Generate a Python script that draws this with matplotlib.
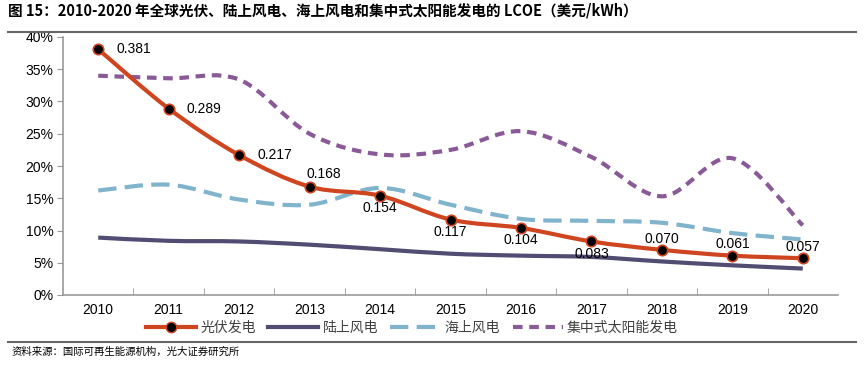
import numpy as np
import matplotlib
matplotlib.use("Agg")
from matplotlib import pyplot as plt
from matplotlib.path import Path
from matplotlib.patches import PathPatch
from matplotlib.lines import Line2D

plt.rcParams['font.family'] = ['Liberation Sans', 'Noto Sans CJK SC', 'DejaVu Sans']

years = ["2010", "2011", "2012", "2013", "2014", "2015", "2016", "2017", "2018", "2019", "2020"]
solar_pv = [0.381, 0.289, 0.217, 0.168, 0.154, 0.117, 0.104, 0.083, 0.070, 0.061, 0.057]
onshore_wind = [0.089, 0.084, 0.083, 0.078, 0.071, 0.064, 0.061, 0.059, 0.052, 0.046, 0.041]
offshore_wind = [0.162, 0.171, 0.148, 0.140, 0.166, 0.140, 0.118, 0.115, 0.112, 0.096, 0.086]
csp = [0.340, 0.336, 0.334, 0.250, 0.218, 0.225, 0.254, 0.214, 0.153, 0.212, 0.108]
series_names = ["光伏发电", "陆上风电", "海上风电", "集中式太阳能发电"]
# label placement for PV values: r = right, a = above, b = below
pv_label_pos = ["r", "r", "r", "ar", "b", "b", "b", "b", "a", "a", "a"]

CJK = ['Noto Sans CJK SC', 'DejaVu Sans']


def smooth_path(x, y):
    # excel-like smoothed line as cubic bezier segments
    x = np.asarray(x, float)
    y = np.asarray(y, float)
    p = np.column_stack([x, y])
    n = len(p)
    verts = [p[0]]
    codes = [Path.MOVETO]
    for i in range(n - 1):
        p0 = p[i - 1] if i > 0 else p[i]
        p3 = p[i + 2] if i + 2 < n else p[i + 1]
        c1 = p[i] + (p[i + 1] - p0) / 6.0
        c2 = p[i + 1] - (p3 - p[i]) / 6.0
        verts += [c1, c2, p[i + 1]]
        codes += [Path.CURVE4] * 3
    return Path(verts, codes)


def draw_curve(ax, values, color, ls, lw=3.0, z=2):
    xs = np.arange(len(values))
    patch = PathPatch(smooth_path(xs, values), facecolor="none", edgecolor=color,
                      linewidth=lw, linestyle=ls, zorder=z, capstyle="butt")
    ax.add_patch(patch)


fig = plt.figure(figsize=[8.66, 3.69], dpi=100)
fig.patch.set_facecolor('white')
ax = fig.add_axes([63 / 866, 1 - 295 / 369, 775 / 866, 258 / 369])

c_pv = "#CF4520"
c_on = "#504C72"
c_off = "#80B3CC"
c_csp = "#8A5A98"

draw_curve(ax, csp, c_csp, (0, (2.3, 1.6)), z=2)
draw_curve(ax, offshore_wind, c_off, (0, (4.4, 2.0)), z=2)
draw_curve(ax, onshore_wind, c_on, "-", z=3)
draw_curve(ax, solar_pv, c_pv, "-", z=4)
x = np.arange(len(years))
ax.plot(x, solar_pv, linestyle="none", marker="o", markersize=7.5,
        markerfacecolor="black", markeredgecolor=c_pv, markeredgewidth=1.2, zorder=5)

for i, (v, pos) in enumerate(zip(solar_pv, pv_label_pos)):
    txt = f"{v:.3f}"
    if pos == "r":
        ax.annotate(txt, (i, v), xytext=(13, 0), textcoords="offset points",
                    ha="left", va="center", fontsize=10)
    elif pos == "ar":
        ax.annotate(txt, (i, v), xytext=(-2, 4), textcoords="offset points",
                    ha="left", va="bottom", fontsize=10)
    elif pos == "b":
        ax.annotate(txt, (i, v), xytext=(0, -4), textcoords="offset points",
                    ha="center", va="top", fontsize=10)
    else:
        ax.annotate(txt, (i, v), xytext=(0, 3), textcoords="offset points",
                    ha="center", va="bottom", fontsize=10)

ax.set_xlim(-0.5, len(years) - 0.5)
ax.set_ylim(0, 0.40)
ax.set_yticks(np.arange(0, 0.41, 0.05))
ax.set_yticklabels([f"{int(round(t * 100))}%" for t in np.arange(0, 0.41, 0.05)], fontsize=10)
ax.set_xticks(x)
ax.set_xticklabels(years, fontsize=10)
ax.set_xticks(np.arange(0.5, len(years) - 0.5, 1), minor=True)
ax.tick_params(axis='x', which='major', length=0, pad=6)
ax.tick_params(axis='x', which='minor', direction='in', length=5, color="#999999")
ax.tick_params(axis='y', which='major', direction='out', length=4, color="#999999", pad=3)
for s in ['top', 'right']:
    ax.spines[s].set_visible(False)
for s in ['left', 'bottom']:
    ax.spines[s].set_color("#999999")
    ax.spines[s].set_linewidth(1.2)

# legend
handles = [
    Line2D([], [], color=c_pv, lw=3.0, marker="o", markersize=7.5, markevery=[1],
           markerfacecolor="black", markeredgecolor=c_pv),
    Line2D([], [], color=c_on, lw=3.0),
    Line2D([], [], color=c_off, lw=3.0, linestyle=(0, (4.4, 2.0))),
    Line2D([], [], color=c_csp, lw=3.0, linestyle=(0, (2.3, 1.6))),
]
leg = fig.legend(handles, series_names, loc="center", bbox_to_anchor=(412 / 866, 1 - 328 / 369),
                 ncol=4, frameon=False, handlelength=3.6, handletextpad=0.3, columnspacing=0.9,
                 borderpad=0, prop={'family': CJK, 'size': 10})
for t in leg.get_texts():
    t.set_color("#404040")

# title, rules and source
fig.text(8 / 866, 1 - 11 / 369, "图 15：2010-2020 年全球光伏、陆上风电、海上风电和集中式太阳能发电的 LCOE（美元/kWh）",
         ha="left", va="center", fontsize=10.5, fontweight="bold", family=CJK)
fig.add_artist(Line2D([8 / 866, 856 / 866], [1 - 32 / 369, 1 - 32 / 369], color="#666666", lw=1.5))
fig.add_artist(Line2D([8 / 866, 856 / 866], [1 - 342 / 369, 1 - 342 / 369], color="#666666", lw=1.5))
fig.text(12 / 866, 1 - 352 / 369, "资料来源：国际可再生能源机构，光大证券研究所",
         ha="left", va="center", fontsize=7.5, family=CJK)

fig.savefig("out.png", dpi=100)
